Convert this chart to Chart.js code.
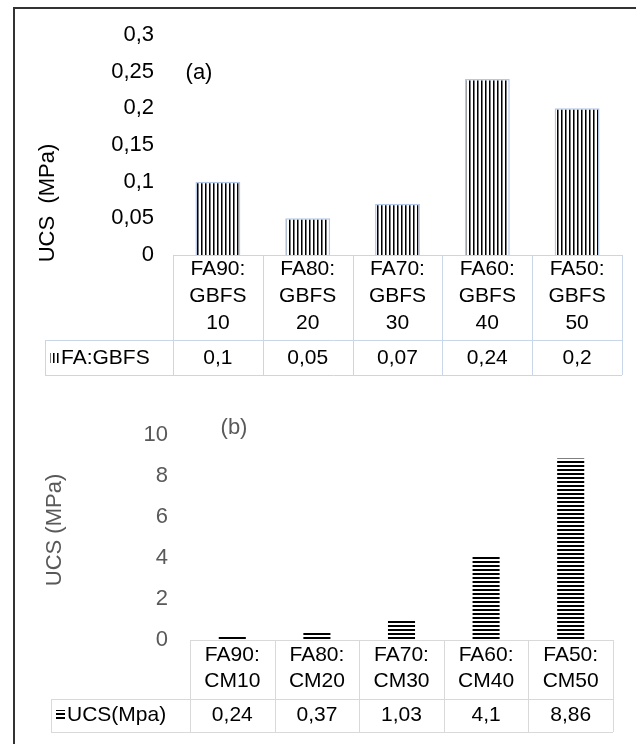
<!DOCTYPE html>
<html>
<head>
<meta charset="utf-8">
<script src="https://cdn.jsdelivr.net/npm/chart.js@4.4.1/dist/chart.umd.min.js"></script>
<style>
  html, body { margin: 0; padding: 0; background: #fff; overflow: hidden; }
  #frame { position: absolute; left: 13px; top: 7px; width: 700px; height: 800px;
           border-left: 2px solid #333; border-top: 2px solid #333; }
  canvas { position: absolute; left: 0; }
</style>
</head>
<body>
<div id="frame"></div>
<canvas id="chartA" width="636" height="400" style="top:0"></canvas>
<canvas id="chartB" width="636" height="344" style="top:400px"></canvas>
<script>
'use strict';

// panel (a)
const categoriesA = [['FA90:', 'GBFS', '10'], ['FA80:', 'GBFS', '20'], ['FA70:', 'GBFS', '30'],
                     ['FA60:', 'GBFS', '40'], ['FA50:', 'GBFS', '50']];
const valuesA = [0.1, 0.05, 0.07, 0.24, 0.2];
const seriesA = 'FA:GBFS';

// panel (b)
const categoriesB = [['FA90:', 'CM10'], ['FA80:', 'CM20'], ['FA70:', 'CM30'],
                     ['FA60:', 'CM40'], ['FA50:', 'CM50']];
const valuesB = [0.24, 0.37, 1.03, 4.1, 8.86];
const seriesB = 'UCS(Mpa)';

const FONT = '"Liberation Sans", Arial, sans-serif';

function comma(v) {
    return String(+v.toFixed(2)).replace('.', ',');
}

function hatch(dir) {
    const c = document.createElement('canvas');
    c.width = 4; c.height = 4;
    const g = c.getContext('2d');
    g.fillStyle = '#fff';
    g.fillRect(0, 0, 4, 4);
    if (dir === 'v') {
        g.fillStyle = '#000'; g.fillRect(1, 0, 1, 4);
        g.fillStyle = '#777'; g.fillRect(2, 0, 1, 4);
    } else {
        g.fillStyle = '#000'; g.fillRect(0, 1, 4, 2);
    }
    return g.createPattern(c, 'repeat');
}

// Excel style data table under the plot, drawn from the x scale
const dataTable = {
    id: 'dataTable',
    afterDraw(chart, args, o) {
        const ctx = chart.ctx;
        const area = chart.chartArea;
        const xs = chart.scales.x;
        const n = chart.data.labels.length;
        const colW = (area.right - area.left) / n;
        const top = area.bottom;
        ctx.save();
        ctx.strokeStyle = o.lineColor;
        ctx.lineWidth = 1;
        ctx.beginPath();
        ctx.moveTo(area.left, top + 0.5); ctx.lineTo(area.right, top + 0.5);
        ctx.moveTo(o.legendLeft, o.sep + 0.5); ctx.lineTo(area.right, o.sep + 0.5);
        ctx.moveTo(o.legendLeft, o.bottom + 0.5); ctx.lineTo(area.right, o.bottom + 0.5);
        for (let i = 0; i <= n; i++) {
            const px = Math.round(area.left + i * colW) + 0.5;
            ctx.moveTo(px, top); ctx.lineTo(px, o.bottom);
        }
        ctx.moveTo(o.legendLeft + 0.5, o.sep); ctx.lineTo(o.legendLeft + 0.5, o.bottom);
        ctx.stroke();

        ctx.fillStyle = o.color;
        ctx.font = o.fontSize + 'px ' + FONT;
        ctx.textAlign = 'center';
        ctx.textBaseline = 'middle';
        const vals = chart.data.datasets[0].data;
        chart.data.labels.forEach((lab, i) => {
            const cx = xs.getPixelForValue(i);
            lab.forEach((line, j) => ctx.fillText(line, cx, o.firstLine + j * o.lineHeight));
            ctx.fillText(comma(vals[i]), cx, o.valueY);
        });

        // legend key + series name
        const ds = chart.data.datasets[0];
        ctx.fillStyle = ds.backgroundColor;
        ctx.fillRect(o.legendLeft + 5, o.valueY - 5, 9, 10);
        ctx.fillStyle = o.color;
        ctx.textAlign = 'left';
        ctx.fillText(ds.label, o.legendLeft + 16, o.valueY);

        // panel tag and axis title
        ctx.fillStyle = o.titleColor;
        ctx.font = '22px ' + FONT;
        ctx.textAlign = 'center';
        ctx.fillText(o.tag, o.tagX, o.tagY);
        ctx.translate(o.titleX, o.titleY);
        ctx.rotate(-Math.PI / 2);
        ctx.fillText(o.title, 0, 0);
        ctx.restore();
    }
};

function makeChart(id, cfg) {
    const ctx = document.getElementById(id).getContext('2d');
    return new Chart(ctx, {
        type: 'bar',
        data: {
            labels: cfg.labels,
            datasets: [{
                label: cfg.series,
                data: cfg.values,
                backgroundColor: hatch(cfg.dir),
                borderColor: cfg.border,
                borderWidth: cfg.borderWidth,
                categoryPercentage: 1,
                barPercentage: cfg.barPct
            }]
        },
        options: {
            responsive: false,
            animation: false,
            devicePixelRatio: 1,
            layout: { padding: cfg.padding },
            plugins: {
                legend: { display: false },
                tooltip: { enabled: false },
                dataTable: cfg.table
            },
            scales: {
                x: { display: false },
                y: {
                    min: 0,
                    max: cfg.max,
                    border: { display: false },
                    grid: { display: false, drawTicks: false },
                    ticks: {
                        stepSize: cfg.step,
                        padding: cfg.tickPad,
                        color: cfg.tickColor,
                        font: { family: FONT, size: 22 },
                        callback: v => comma(v)
                    },
                    afterFit: s => { s.width = cfg.left; }
                }
            }
        },
        plugins: [dataTable]
    });
}

makeChart('chartA', {
    labels: categoriesA, values: valuesA, series: seriesA, dir: 'v',
    border: '#b4c7e7', borderWidth: 1.5, barPct: 0.5,
    max: 0.3, step: 0.05, left: 173, tickPad: 19, tickColor: '#000',
    padding: { left: 0, right: 14, top: 35, bottom: 145 },
    table: {
        lineColor: '#c9d6ea', color: '#000', fontSize: 21,
        legendLeft: 45, sep: 340, bottom: 375,
        firstLine: 269, lineHeight: 27, valueY: 358,
        tag: '(a)', tagX: 199, tagY: 73, titleColor: '#000',
        title: 'UCS  (MPa)', titleX: 48, titleY: 203
    }
});

makeChart('chartB', {
    labels: categoriesB, values: valuesB, series: seriesB, dir: 'h',
    border: '#fff', borderWidth: 0, barPct: 0.32,
    max: 10, step: 2, left: 190, tickPad: 22, tickColor: '#595959',
    padding: { left: 0, right: 23, top: 25, bottom: 104 },
    table: {
        lineColor: '#d9d9d9', color: '#000', fontSize: 21,
        legendLeft: 51, sep: 299, bottom: 332,
        firstLine: 255, lineHeight: 26, valueY: 315,
        tag: '(b)', tagX: 234, tagY: 28, titleColor: '#595959',
        title: 'UCS (MPa)', titleX: 55, titleY: 130
    }
});
</script>
</body>
</html>
